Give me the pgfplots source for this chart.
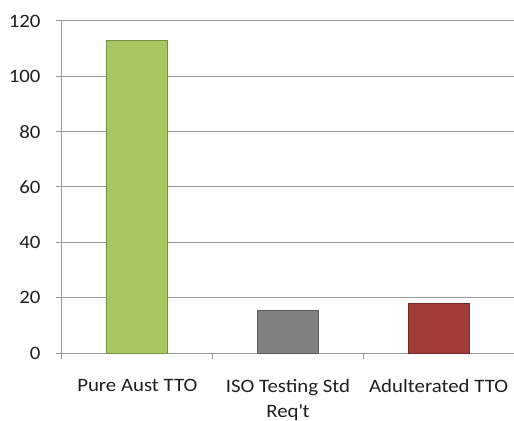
\documentclass[border=0pt]{standalone}
\usepackage{pgfplots}
\pgfplotsset{compat=1.18}
\usepackage{fontspec}
\setmainfont{Carlito}[FakeStretch=1.1]
\definecolor{gridc}{RGB}{152,152,152}
\definecolor{labc}{RGB}{30,30,30}
\definecolor{greenf}{RGB}{166,199,98}
\definecolor{greend}{RGB}{118,146,62}
\definecolor{grayf}{RGB}{128,128,128}
\definecolor{grayd}{RGB}{92,92,92}
\definecolor{redf}{RGB}{163,59,57}
\definecolor{redd}{RGB}{118,40,38}
\begin{document}
\begin{tikzpicture}
\useasboundingbox (-62bp,-68bp) rectangle (452bp,353bp);
\begin{axis}[
  scale only axis, width=452bp, height=332bp,
  xmin=-0.5, xmax=2.5, ymin=0, ymax=120,
  ytick={0,20,...,120},
  axis lines=left, axis line style={-, draw=gridc, line width=1bp},
  ymajorgrids, grid style={draw=gridc, line width=1bp},
  tick align=outside, major tick length=6bp,
  tick style={draw=gridc, line width=1bp},
  xtick={-0.5,0.5,1.5}, xticklabels={},
  extra x ticks={0,1,2},
  extra x tick labels={Pure Aust TTO, {ISO Testing Std\\Req\textquotesingle t}, Adulterated TTO},
  extra x tick style={tick style={draw=none}},
  xticklabel style={align=center, font=\fontsize{19}{25}\selectfont, text=labc, yshift=-17bp},
  yticklabel style={font=\fontsize{19}{25}\selectfont, text=labc, xshift=-12bp},
  /pgf/number format/assume math mode=true,
]
\addplot[ybar, bar width=61bp, bar shift=0pt, fill=greenf, draw=greend, line width=1bp] coordinates {(0,113)};
\addplot[ybar, bar width=61bp, bar shift=0pt, fill=grayf, draw=grayd, line width=1bp] coordinates {(1,15.5)};
\addplot[ybar, bar width=61bp, bar shift=0pt, fill=redf, draw=redd, line width=1bp] coordinates {(2,18)};
\end{axis}
\end{tikzpicture}
\end{document}
